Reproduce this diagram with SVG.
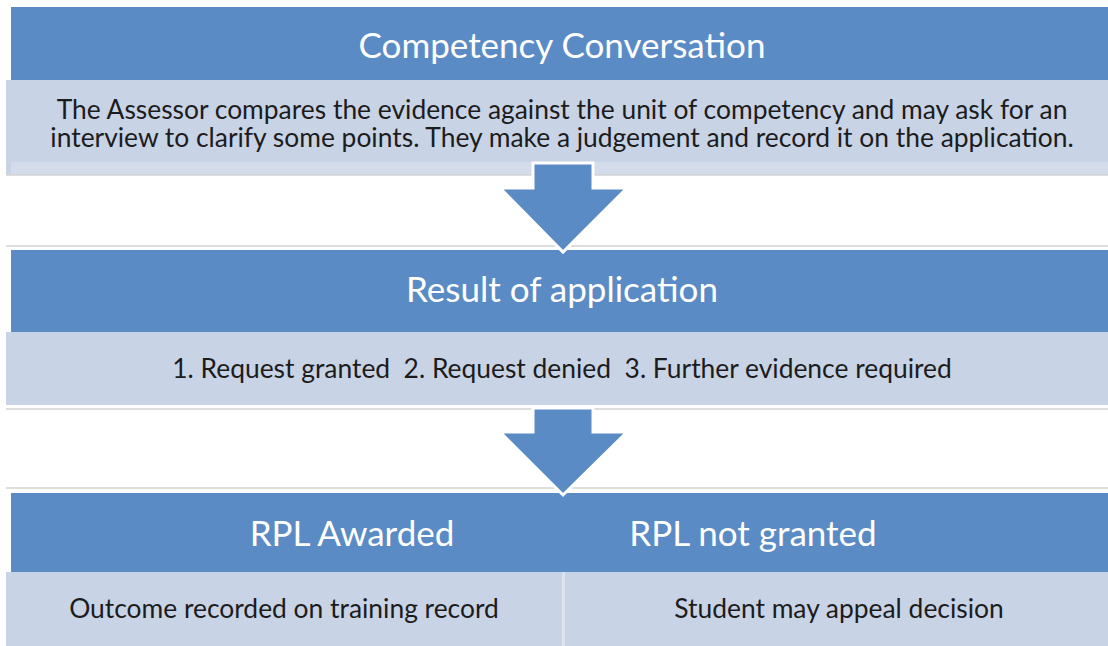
<svg xmlns="http://www.w3.org/2000/svg" width="1108" height="646" viewBox="0 0 1108 646">
  <style>
    .hdr { fill: #5B8BC5; }
    .body { fill: #C9D3E6; }
    .band { fill: #D4DCEB; }
    .rule { stroke: #D3D3D3; stroke-width: 1.5; fill: none; }
    .title { font-family: Lato, "Liberation Sans", sans-serif; font-size: 35px; fill: #FFFFFF; text-anchor: middle; }
    .txt { font-family: Lato, "Liberation Sans", sans-serif; font-size: 26.4px; fill: #1C1C1C; text-anchor: middle; white-space: pre; }
    .arrow { fill: #5B8BC5; stroke: #FFFFFF; stroke-width: 3; stroke-linejoin: miter; }
  </style>
  <rect width="1108" height="646" fill="#FFFFFF"/>

  <!-- Step 1 -->
  <g id="competency-conversation">
    <rect class="body" x="6" y="80" width="1102" height="95"/>
    <rect class="band" x="11" y="162" width="1097" height="12"/>
    <line class="rule" x1="6" y1="175" x2="1108" y2="175"/>
    <rect class="hdr" x="11" y="7" width="1097" height="73"/>
    <text class="title" x="562" y="58">Competency Conversation</text>
    <text class="txt" x="562" y="119">The Assessor compares the evidence against the unit of competency and may ask for an</text>
    <text class="txt" x="562" y="147">interview to clarify some points. They make a judgement and record it on the application.</text>
  </g>

  <!-- Step 2 -->
  <g id="result-of-application">
    <line class="rule" x1="6" y1="246" x2="1108" y2="246"/>
    <rect class="body" x="6" y="332" width="1102" height="73"/>
    <line class="rule" x1="6" y1="409" x2="1108" y2="409"/>
    <rect class="hdr" x="11" y="250" width="1097" height="82"/>
    <text class="title" x="562" y="302">Result of application</text>
    <text class="txt" x="562" y="378" xml:space="preserve">1. Request granted  2. Request denied  3. Further evidence required</text>
  </g>

  <!-- Step 3 -->
  <g id="outcome">
    <line class="rule" x1="6" y1="488" x2="1108" y2="488"/>
    <rect class="body" x="6" y="572" width="1102" height="74"/>
    <line x1="563.5" y1="572" x2="563.5" y2="646" stroke="#DCE2EE" stroke-width="3"/>
    <rect class="hdr" x="11" y="493" width="1097" height="79"/>
    <text class="title" x="352" y="546">RPL Awarded</text>
    <text class="title" x="753" y="546">RPL not granted</text>
    <text class="txt" x="284" y="618">Outcome recorded on training record</text>
    <text class="txt" x="839" y="618">Student may appeal decision</text>
  </g>

  <!-- Down arrows between steps -->
  <g id="connectors">
    <path class="arrow" d="M533 163 H593 V188 H627 L563 252 L500 188 H533 Z"/>
    <path class="arrow" d="M533 408 H593 V432 H627 L563 495 L500 432 H533 Z"/>
  </g>
</svg>
